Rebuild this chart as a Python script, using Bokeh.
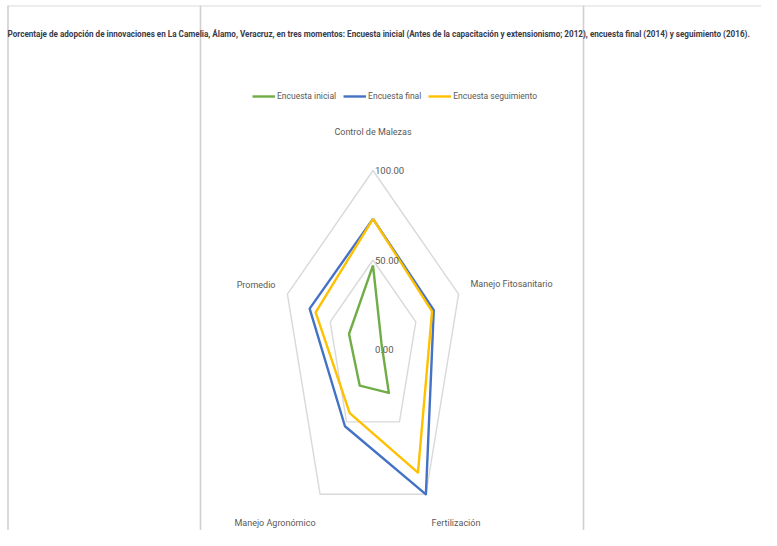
import math
from bokeh.plotting import figure
from bokeh.models import Range1d, Label
from bokeh.embed import file_html
from bokeh.resources import INLINE
from bokeh.core.properties import value

# ---------------- data ----------------
title_text = ("Porcentaje de adopción de innovaciones en La Camelia, Álamo, Veracruz, en tres momentos: "
              "Encuesta inicial (Antes de la capacitación y extensionismo; 2012), encuesta final (2014) y seguimiento (2016).")
categories = ["Control de Malezas", "Manejo Fitosanitario", "Fertilización", "Manejo Agronómico", "Promedio"]
series_names = ["Encuesta inicial", "Encuesta final", "Encuesta seguimiento"]
encuesta_inicial = [47, 10, 30, 25, 28]
encuesta_final = [73, 71, 100, 53, 74]
encuesta_seguimiento = [73, 69, 85, 44, 67]
grid_levels = [50, 100]
tick_values = [0, 50, 100]
tick_labels = ["0.00", "50.00", "100.00"]

# ---------------- style / layout ----------------
colors = ["#70AD47", "#4472C4", "#FFC000"]
FONT = "Roboto"
W, H = 761, 530
CX, CY = 372.5, 349.0      # radar centre on the canvas (px)
SX, SY = 0.9, 1.79         # px per value unit (horizontal / vertical)

p = figure(width=W, height=H, output_backend="svg", toolbar_location=None,
           x_range=Range1d(0, W), y_range=Range1d(H, 0),
           x_axis_location=None, y_axis_location=None,
           min_border=0, background_fill_color="white", border_fill_color="white")
p.grid.visible = False
p.outline_line_color = None
p.extra_x_ranges = {"r": Range1d(-CX / SX, (W - CX) / SX)}
p.extra_y_ranges = {"r": Range1d(-(H - CY) / SY, CY / SY)}

# spreadsheet cell borders
for xb in [7.5, 200, 583]:
    p.segment(x0=xb, y0=5, x1=xb, y1=H, line_color="#D0D0D0", line_width=1.6)
p.segment(x0=7.5, y0=5.5, x1=W, y1=5.5, line_color="#DADADA", line_width=1.2)

n = len(categories)
angles = [math.radians(90 - 360 * k / n) for k in range(n)]

def polar(vals):
    xs = [v * math.cos(a) for v, a in zip(vals, angles)]
    ys = [v * math.sin(a) for v, a in zip(vals, angles)]
    return xs + xs[:1], ys + ys[:1]

# grid pentagons
for lv in grid_levels:
    gx, gy = polar([lv] * n)
    p.line(gx, gy, line_color="#D9D9D9", line_width=1.4, x_range_name="r", y_range_name="r")

# series
for name, vals, c in zip(series_names, [encuesta_inicial, encuesta_final, encuesta_seguimiento], colors):
    sx, sy = polar(vals)
    p.line(sx, sy, line_color=c, line_width=2.4, line_join="round",
           x_range_name="r", y_range_name="r", legend_label=name)

# radial tick labels
p.text(x=[0] * len(tick_values), y=tick_values, text=tick_labels, x_offset=2,
       text_align="left", text_baseline="middle", text_font=value(FONT),
       text_font_size="9.5px", text_color="#595959", x_range_name="r", y_range_name="r")

# category labels
cat_pos = [(372.5, 131, "center"), (470, 283, "left"), (455.5, 522, "center"),
           (274.5, 522, "center"), (275, 284, "right")]
for txt, (lx, ly, al) in zip(categories, cat_pos):
    p.add_layout(Label(x=lx, y=ly, text=txt, text_align=al, text_baseline="middle",
                       text_font=FONT, text_font_size="9px", text_color="#595959"))

# title
p.add_layout(Label(x=7, y=33, text=title_text, text_align="left", text_baseline="middle",
                   text_font=FONT, text_font_size="8.15px", text_color="#3A3A4A",
                   text_font_style="bold"))

# legend
lg = p.legend[0]
lg.orientation = "horizontal"
lg.location = (252, 428)
lg.padding = 0
lg.margin = 0
lg.spacing = 7
lg.glyph_width = 23
lg.glyph_height = 12
lg.label_height = 12
lg.label_standoff = 2
lg.border_line_color = None
lg.background_fill_alpha = 0
lg.label_text_font = FONT
lg.label_text_font_size = "8.5px"
lg.label_text_color = "#595959"

open("out.html", "w").write(file_html(p, INLINE))
